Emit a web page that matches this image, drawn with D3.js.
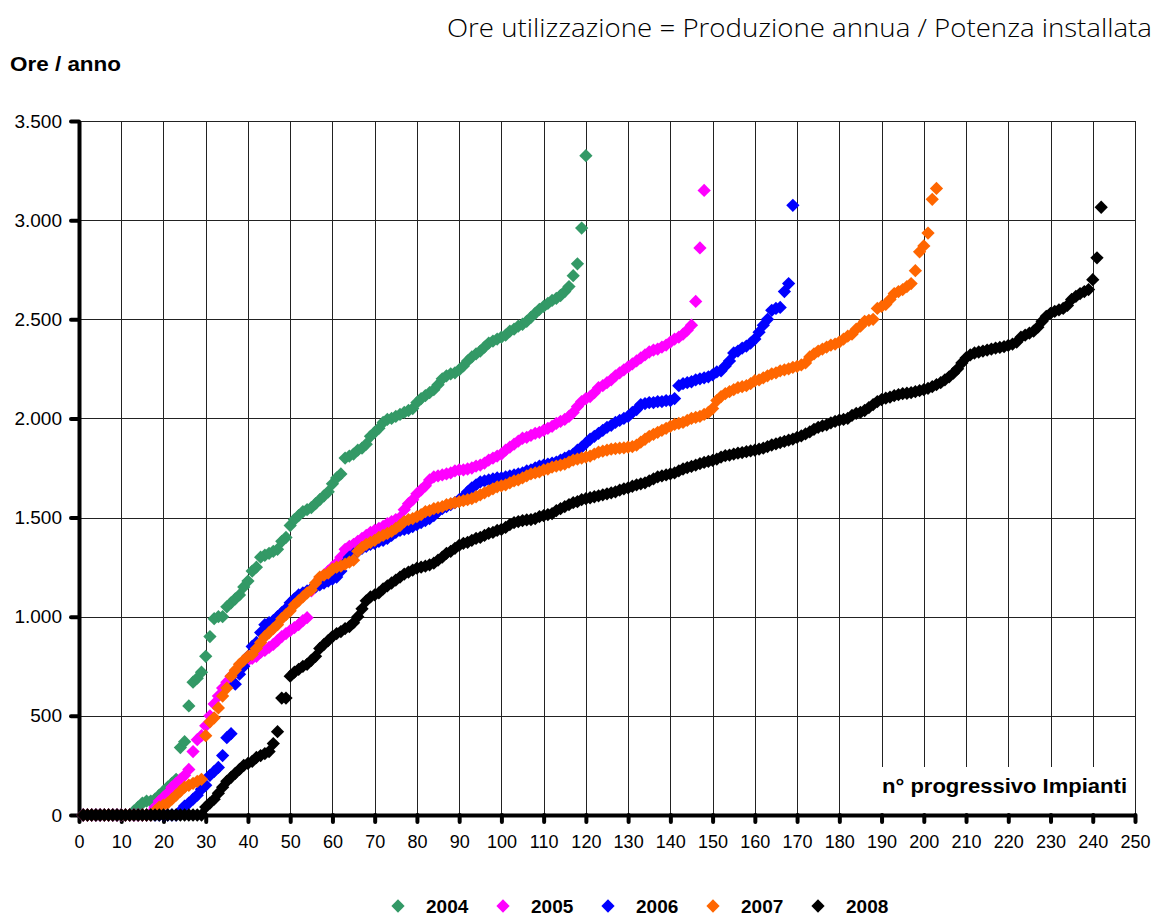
<!DOCTYPE html>
<html>
<head>
<meta charset="utf-8">
<script src="https://cdn.jsdelivr.net/npm/d3@7"></script>
<style>
  body { margin: 0; background: #fff; }
  text { font-family: Arial, "Liberation Sans", sans-serif; }
</style>
</head>
<body>
<div id="chart"></div>
<script>
// chart values (n = progressive plant number, value = hours/year)
var years = ["2004", "2005", "2006", "2007", "2008"];
var colors = ["#339966", "#ff00ff", "#0000ff", "#ff6600", "#000000"];
var xTicks = [0,10,20,30,40,50,60,70,80,90,100,110,120,130,140,150,160,170,180,190,200,210,220,230,240,250];
var yTicks = [0,500,1000,1500,2000,2500,3000,3500];

var v2004 = [
  0,0,0,0,0,0,0,0,0,0,
  0,0,20,40,60,70,70,80,100,120,
  140,160,180,340,370,550,670,690,720,800,
  900,990,1000,1000,1050,1070,1090,1110,1150,1180,
  1230,1250,1300,1310,1320,1330,1340,1380,1400,1460,
  1490,1510,1530,1540,1550,1570,1590,1610,1630,1670,
  1700,1720,1800,1810,1820,1840,1850,1870,1910,1930,
  1950,1980,1995,2000,2010,2020,2030,2040,2050,2080,
  2100,2115,2130,2145,2170,2200,2215,2225,2230,2245,
  2265,2290,2310,2325,2340,2360,2380,2390,2400,2410,
  2420,2440,2450,2465,2475,2490,2510,2530,2550,2565,
  2580,2595,2605,2620,2640,2665,2720,2780,2960,3325
];
var v2005 = [
  0,0,0,0,0,0,0,0,0,0,
  0,0,0,0,0,0,10,40,70,90,
  110,140,160,180,200,230,320,380,400,450,
  500,560,600,640,670,700,720,740,760,780,
  790,800,820,830,845,860,880,900,915,930,
  945,960,980,995,1130,1160,1190,1210,1230,1250,
  1270,1300,1340,1355,1365,1380,1395,1410,1425,1435,
  1445,1455,1470,1480,1490,1500,1540,1570,1590,1620,
  1640,1660,1690,1705,1710,1715,1720,1725,1735,1740,
  1740,1745,1750,1760,1765,1775,1790,1800,1810,1820,
  1840,1855,1870,1885,1900,1905,1915,1925,1930,1940,
  1950,1960,1975,1985,1995,2010,2030,2060,2085,2100,
  2110,2130,2155,2165,2180,2195,2215,2230,2245,2260,
  2275,2290,2305,2320,2335,2345,2350,2360,2370,2385,
  2400,2410,2425,2445,2470,2590,2860,3150
];
var v2006 = [
  0,0,0,0,0,0,0,0,0,0,
  0,0,0,0,0,0,0,0,0,0,
  0,0,0,20,45,60,80,100,130,150,
  200,220,240,300,390,410,660,710,750,800,
  850,870,920,960,970,980,1000,1020,1040,1070,
  1090,1110,1120,1130,1140,1150,1160,1170,1180,1190,
  1200,1230,1270,1300,1315,1330,1345,1355,1365,1370,
  1380,1385,1395,1410,1425,1435,1440,1445,1455,1465,
  1475,1485,1495,1510,1530,1545,1555,1565,1575,1590,
  1605,1630,1650,1665,1680,1685,1690,1695,1700,1700,
  1705,1710,1715,1720,1725,1735,1740,1750,1760,1765,
  1770,1775,1780,1790,1800,1810,1820,1840,1855,1875,
  1895,1910,1925,1940,1955,1965,1980,1990,2000,2010,
  2030,2045,2070,2075,2080,2080,2085,2085,2090,2090,
  2100,2165,2175,2180,2185,2195,2200,2205,2210,2220,
  2235,2240,2265,2290,2330,2340,2355,2365,2380,2400,
  2435,2470,2500,2545,2555,2560,2640,2680,3075
];
var v2007 = [
  0,0,0,0,0,0,0,0,0,0,
  0,0,0,0,0,0,0,20,40,50,
  60,80,100,120,140,150,160,170,180,400,
  470,490,540,600,640,700,730,760,780,800,
  810,840,870,900,920,940,960,990,1010,1030,
  1060,1080,1100,1120,1135,1170,1200,1210,1220,1240,
  1250,1255,1265,1275,1285,1330,1350,1365,1375,1385,
  1400,1410,1420,1430,1445,1460,1480,1490,1495,1505,
  1515,1530,1535,1545,1550,1555,1565,1570,1575,1580,
  1585,1590,1595,1605,1615,1625,1635,1645,1655,1660,
  1665,1675,1685,1690,1700,1710,1720,1725,1730,1740,
  1745,1755,1760,1765,1770,1780,1790,1795,1800,1805,
  1810,1820,1830,1835,1840,1845,1848,1850,1852,1855,
  1858,1865,1880,1895,1910,1920,1930,1940,1950,1960,
  1970,1975,1980,1990,2000,2005,2010,2020,2030,2050,
  2090,2110,2125,2135,2145,2155,2160,2165,2175,2190,
  2195,2205,2215,2225,2230,2240,2245,2250,2258,2262,
  2270,2280,2310,2325,2340,2350,2360,2370,2375,2385,
  2400,2415,2425,2450,2465,2490,2495,2500,2555,2565,
  2575,2600,2630,2640,2650,2665,2680,2745,2840,2870,
  2935,3105,3160
];
var v2008 = [
  0,0,0,0,0,0,0,0,0,0,
  0,0,0,0,0,0,0,0,0,0,
  0,0,0,0,0,0,0,0,0,40,
  60,80,110,140,170,190,210,230,250,260,
  270,290,300,310,320,360,420,590,590,700,
  720,735,750,760,780,800,840,860,880,900,
  915,925,940,950,970,1000,1040,1080,1100,1110,
  1120,1140,1155,1170,1185,1200,1215,1225,1235,1245,
  1250,1255,1262,1270,1285,1300,1320,1330,1345,1360,
  1370,1375,1385,1395,1400,1410,1420,1425,1435,1440,
  1450,1465,1475,1480,1485,1488,1490,1495,1505,1510,
  1515,1520,1535,1545,1555,1565,1575,1580,1590,1595,
  1600,1605,1610,1615,1620,1625,1630,1638,1645,1650,
  1658,1665,1670,1675,1685,1695,1705,1710,1715,1720,
  1725,1735,1745,1752,1758,1765,1772,1778,1783,1788,
  1795,1805,1812,1815,1820,1825,1828,1832,1836,1840,
  1845,1850,1858,1866,1872,1878,1884,1890,1896,1905,
  1912,1922,1932,1945,1955,1962,1968,1978,1985,1992,
  1995,2000,2015,2025,2030,2040,2055,2070,2085,2095,
  2102,2108,2115,2120,2125,2127,2130,2135,2140,2145,
  2152,2160,2170,2180,2195,2210,2228,2250,2280,2305,
  2320,2330,2335,2340,2345,2350,2355,2358,2362,2368,
  2375,2385,2410,2420,2430,2440,2460,2490,2515,2530,
  2540,2548,2555,2570,2600,2615,2630,2640,2650,2700,
  2810,3065
];
var seriesValues = [v2004, v2005, v2006, v2007, v2008];

var width = 1156;
var height = 917;
var margin = { left: 79, top: 121, right: 21, bottom: 102 };

// italian number format: 3.500
var it = d3.formatLocale({ decimal: ",", thousands: ".", grouping: [3], currency: ["", " €"] });
var fmt = it.format(",d");

var svg = d3.select("#chart").append("svg")
    .attr("width", width)
    .attr("height", height);

var x = d3.scaleLinear().domain([0, 250]).range([margin.left, width - margin.right]);
var y = d3.scaleLinear().domain([0, 3500]).range([height - margin.bottom, margin.top]);

// gridlines
svg.append("g")
    .selectAll("line")
    .data(xTicks.slice(1))
    .enter().append("line")
    .attr("x1", d => Math.round(x(d)) + 0.5)
    .attr("x2", d => Math.round(x(d)) + 0.5)
    .attr("y1", y(3500))
    .attr("y2", y(0))
    .style("stroke", "#222")
    .style("stroke-width", 1);

svg.append("g")
    .selectAll("line")
    .data(yTicks.slice(1))
    .enter().append("line")
    .attr("x1", x(0))
    .attr("x2", x(250))
    .attr("y1", d => Math.round(y(d)) + 0.5)
    .attr("y2", d => Math.round(y(d)) + 0.5)
    .style("stroke", "#222")
    .style("stroke-width", 1);

// white box behind the x-axis caption
svg.append("rect")
    .attr("x", 880)
    .attr("y", 767)
    .attr("width", x(250) - 881)
    .attr("height", y(0) - 767)
    .style("fill", "#fff");

// axes
var yAxis = svg.append("g")
    .attr("transform", "translate(" + x(0) + ",0)")
    .call(d3.axisLeft(y).tickValues(yTicks).tickFormat(fmt).tickSize(8).tickSizeOuter(0).tickPadding(9));

var xAxis = svg.append("g")
    .attr("transform", "translate(0," + y(0) + ")")
    .call(d3.axisBottom(x).tickValues(xTicks).tickFormat(d3.format("d")).tickSize(7).tickSizeOuter(0).tickPadding(13));

[yAxis, xAxis].forEach(function (ax) {
    ax.select(".domain").style("stroke", "#000").style("stroke-width", 4);
    ax.selectAll(".tick line").style("stroke", "#000").style("stroke-width", 4).style("stroke-linecap", "round");
    ax.selectAll("text").style("fill", "#000").attr("font-family", null);
});
yAxis.selectAll("text").style("font-size", "19px");
xAxis.selectAll("text").style("font-size", "18px");

// markers: diamonds (rotated squares)
var diamond = d3.symbol().type(d3.symbolSquare).size(88);

seriesValues.forEach(function (vals, i) {
    svg.append("g")
        .selectAll("path")
        .data(vals)
        .enter().append("path")
        .attr("d", diamond)
        .attr("transform", (d, k) => "translate(" + x(k + 1) + "," + y(d) + ") rotate(45)")
        .style("fill", colors[i]);
});

// texts
svg.append("text")
    .attr("x", 1152)
    .attr("y", 37)
    .attr("text-anchor", "end")
    .attr("textLength", 705)
    .attr("lengthAdjust", "spacingAndGlyphs")
    .style("font-family", "'Open Sans', 'Noto Sans', sans-serif")
    .style("font-weight", 300)
    .style("font-size", "26px")
    .text("Ore utilizzazione = Produzione annua / Potenza installata");

svg.append("text")
    .attr("x", 10)
    .attr("y", 71)
    .attr("textLength", 111)
    .attr("lengthAdjust", "spacingAndGlyphs")
    .style("font-weight", "bold")
    .style("font-size", "20px")
    .text("Ore / anno");

svg.append("text")
    .attr("x", 882)
    .attr("y", 793)
    .attr("textLength", 245)
    .attr("lengthAdjust", "spacingAndGlyphs")
    .style("font-weight", "bold")
    .style("font-size", "20px")
    .text("n° progressivo Impianti");

// legend
var legend = svg.append("g")
    .selectAll("g")
    .data(years)
    .enter().append("g")
    .attr("transform", (d, i) => "translate(" + (398 + i * 105) + ",906)");

legend.append("path")
    .attr("d", diamond)
    .attr("transform", "rotate(45)")
    .style("fill", (d, i) => colors[i]);

legend.append("text")
    .attr("x", 28)
    .attr("y", 7)
    .style("font-weight", "bold")
    .style("font-size", "19px")
    .text(d => d);
</script>
</body>
</html>
